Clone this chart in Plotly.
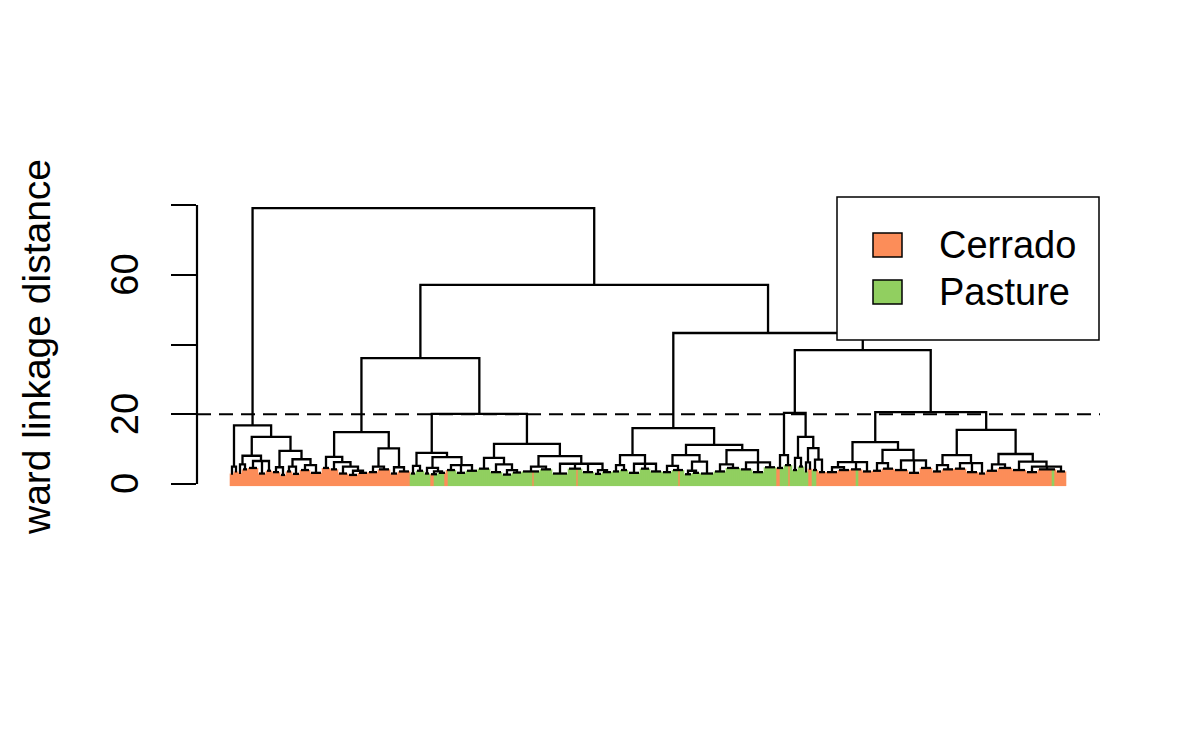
import plotly.graph_objects as go

W, H = 1200, 741

# ---------------- data ----------------
categories = ["Cerrado", "Pasture"]
category_codes = ["C", "P"]
category_colors = ["#FC8D59", "#91CF60"]

ytick_vals = [0, 20, 40, 60, 80]
ytick_text = ["0", "20", "", "60", ""]
cut_height = 20
y_title = "ward linkage distance"

# merge heights of the upper tree
h_root = 79.1
h_B = 57.1
h_B1 = 36.1
h_B2 = 43.3

# sub-trees: [merge height, child, child, ...]; a string lists leaves (C = Cerrado, P = Pasture)
sub_A = [16.8,
         [5.0, [3.0, "CC"], [3.6, "CC"]],
         [13.5,
          [8.1,
           [5.6, [3.2, "CC"], [4.2, "CCC"]],
           [6.6, [4.6, "CCCCC"], [3.0, "CCCC"], [3.8, "CCC"]]],
          [9.5,
           [4.8, [3.4, "CCCC"], [2.6, "CCC"]],
           [7.1,
            [5.0, [3.6, "CCC"], [2.9, "CCCC"]],
            [5.4, [4.0, "CCCCC"], [3.2, "CCCCCC"]]]]]]

sub_B1a = [14.9,
           [7.8, [4.6, "CCCC"],
            [6.3, [4.2, "CCCC"], [5.0, [3.0, "CCCCC"], [3.8, [2.6, "CCCCC"], [3.2, "CCCCC"]]]]],
           [10.2,
            [5.0, [3.4, "CCCCC"], [4.2, "CCCCCC"]],
            [4.8, [3.0, "CCCC"], [3.6, "CCCCCC"]]]]

sub_B1b = [20.1,
           [8.9,
            [5.2, [3.0, "PPP"], [3.8, "PPPP"]],
            [7.7,
             [4.6, [3.0, "PPP"], [3.6, [2.8, "CCPP"], [3.2, "PPPC"]]],
             [5.4, [4.0, "CPPPP"], [3.2, "PPPPP"], [3.8, "PPPPPP"]]]],
           [11.5,
            [7.5, [4.4, "PPPPPP"], [5.6, [3.4, "PPPPPP"], [4.0, [2.7, "PPPPP"], [3.3, "PPPPP"]]]],
            [8.0,
             [5.0, [3.6, "PPPPPCPPP"], [4.2, "PPPPPP"]],
             [5.8, [3.0, "PPPPPPPP"], [4.4, "PPPPCPP"], [3.4, "PPPPPP"], [4.0, [2.9, "PPPP"], [3.4, "PPPPP"]]]]]]

sub_B2a = [16.0,
           [8.3,
            [5.4, [3.6, "PPPP"], [4.0, "PPPP"]],
            [5.8, [3.2, "PPPPPP"], [4.4, "PPPPP"], [3.6, "PPPPPP"]]],
           [11.2,
            [8.3,
             [5.2, [3.4, "PPPPP"], [4.0, "PPPCPP"]],
             [6.4, [3.8, [2.8, "PPPP"], [3.2, "PPPP"]], [3.0, "PPPPPPP"]]],
            [9.7,
             [5.6, [3.6, "PPPPPP"], [4.6, "PPPPPPP"]],
             [6.2, [4.2, "PPPPPP"], [3.4, "PPPPPP"], [4.8, "PPPPPP"]]]]]

sub_B2b = [38.4,
           [20.4,
            [8.3, [4.6, "CCPP"], [5.4, "PPCP"]],
            [13.5,
             [7.5, [4.0, "PPP"], [5.0, "PPP"]],
             [10.3, [6.2, [3.6, "PP"], [4.4, "CC"]], [7.0, [4.0, "PPC"], [3.4, "CCCC"]]]]],
           [20.6,
            [12.0,
             [6.3, [4.8, [3.4, "CCCCCC"], [4.0, "CCCCCC"]], [4.2, "CCCPCC"], [3.6, "CCCCC"]],
             [9.8,
              [6.0, [3.8, "CCCCC"], [4.4, "CCCCCC"]],
              [6.8, [4.0, "CCCCCCC"], [3.2, "CCCCCC"], [4.6, "CCCCCC"]]]],
            [15.5,
             [8.3,
              [5.4, [3.6, "CCCCC"], [4.2, "CCCCCC"]],
              [6.0, [4.4, "CCCCCC"], [3.4, "CCCCCC"], [3.0, "CCCC"]]],
             [8.6,
              [5.6, [3.8, "CCCCCC"], [4.6, "CCCCCCC"]],
              [6.4, [4.0, "CCCCCCC"],
               [5.0, [3.4, "CCCCCC"], [4.2, "CCCCCCCPC"], [3.6, "CCCCC"]]]]]]]

tree = [h_root, sub_A, [h_B, [h_B1, sub_B1a, sub_B1b], [h_B2, sub_B2a, sub_B2b]]]

# ---------------- dendrogram layout ----------------
leaf_base = -0.6
black_x, black_y = [], []
leaf_x = {c: [] for c in category_codes}
leaf_y = {c: [] for c in category_codes}
counter = [0]


def layout(node):
    h = node[0]
    centers = []
    tops = []
    for ch in node[1:]:
        if isinstance(ch, str):
            for code in ch:
                i = counter[0]
                counter[0] += 1
                leaf_x[code] += [i, i, None]
                leaf_y[code] += [leaf_base, h, None]
                centers.append(i)
                tops.append(None)
        else:
            cx, ch_h = layout(ch)
            centers.append(cx)
            tops.append(ch_h)
    # bracket: first child up, across, last child down
    xs, ys = [], []
    if tops[0] is not None:
        xs.append(centers[0]); ys.append(tops[0])
    xs += [centers[0], centers[-1]]
    ys += [h, h]
    if tops[-1] is not None:
        xs.append(centers[-1]); ys.append(tops[-1])
    black_x.extend(xs + [None]); black_y.extend(ys + [None])
    for cx, t in zip(centers[1:-1], tops[1:-1]):
        if t is not None:
            black_x.extend([cx, cx, None]); black_y.extend([t, h, None])
    return (centers[0] + centers[-1]) / 2.0, h


layout(tree)
n_leaves = counter[0]

fig = go.Figure()
for code, color in zip(category_codes, category_colors):
    fig.add_trace(go.Scatter(x=leaf_x[code], y=leaf_y[code], mode="lines",
                             line=dict(color=color, width=2.6), hoverinfo="skip",
                             showlegend=False))
fig.add_trace(go.Scatter(x=black_x, y=black_y, mode="lines",
                         line=dict(color="black", width=2.3), hoverinfo="skip",
                         showlegend=False))

# ---------------- geometry (pixels) ----------------
px_left, px_right = 197, 1100
px_top, px_bottom = 120, 600
leaf0_px, leaf_step_px = 231, 2.0
y0_px, y_per_unit = 484, 3.4875

x_lo = (px_left - leaf0_px) / leaf_step_px
x_hi = (px_right - leaf0_px) / leaf_step_px
y_lo = (y0_px - px_bottom) / y_per_unit
y_hi = (y0_px - px_top) / y_per_unit

FONT = "Liberation Sans, Arial, Helvetica, sans-serif"

fig.update_layout(
    width=W, height=H, autosize=False,
    margin=dict(l=0, r=0, t=0, b=0),
    paper_bgcolor="white", plot_bgcolor="white",
    font=dict(family=FONT, size=38, color="black"),
    xaxis=dict(domain=[px_left / W, px_right / W], range=[x_lo, x_hi],
               visible=False, fixedrange=True),
    yaxis=dict(domain=[(H - px_bottom) / H, (H - px_top) / H], range=[y_lo, y_hi],
               showgrid=False, zeroline=False, showline=False,
               tickmode="array", tickvals=ytick_vals, ticks="outside",
               ticklen=25, tickwidth=2.2, tickcolor="black", showticklabels=False),
)

shapes = []
# y axis line (from first to last tick)
shapes.append(dict(type="line", xref="paper", yref="y", x0=px_left / W, x1=px_left / W,
                   y0=ytick_vals[0], y1=ytick_vals[-1], line=dict(color="black", width=2.2)))
# cut height dashed line
shapes.append(dict(type="line", xref="paper", yref="y", x0=px_left / W, x1=px_right / W,
                   y0=cut_height, y1=cut_height,
                   line=dict(color="black", width=2.2, dash="14px,8px")))
# legend box
lg_x0, lg_x1, lg_y0, lg_y1 = 837, 1099, 197, 340
shapes.append(dict(type="rect", xref="paper", yref="paper", layer="above",
                   x0=lg_x0 / W, x1=lg_x1 / W, y0=1 - lg_y0 / H, y1=1 - lg_y1 / H,
                   fillcolor="white", line=dict(color="black", width=1.5)))
annotations = []
sq_x0, sq_x1 = 873, 902
rows_center = [245, 292]
for name, color, cy in zip(categories, category_colors, rows_center):
    shapes.append(dict(type="rect", xref="paper", yref="paper", layer="above",
                       x0=sq_x0 / W, x1=sq_x1 / W, y0=1 - (cy - 12) / H, y1=1 - (cy + 12) / H,
                       fillcolor=color, line=dict(color="black", width=1.5)))
    annotations.append(dict(xref="paper", yref="paper", x=937 / W, y=1 - cy / H,
                            xanchor="left", yanchor="middle", showarrow=False,
                            text=name, font=dict(size=38, family=FONT)))

# tick labels (rotated, parallel to the axis)
for v, t in zip(ytick_vals, ytick_text):
    if t:
        annotations.append(dict(xref="paper", yref="y", x=125 / W, y=v,
                                xanchor="center", yanchor="middle", showarrow=False,
                                text=t, textangle=-90, font=dict(size=38, family=FONT)))
# axis title
annotations.append(dict(xref="paper", yref="paper", x=36 / W, y=1 - 347 / H,
                        xanchor="center", yanchor="middle", showarrow=False,
                        text=y_title, textangle=-90, font=dict(size=39, family=FONT)))

fig.update_layout(shapes=shapes, annotations=annotations)
fig.write_html("out.html")
